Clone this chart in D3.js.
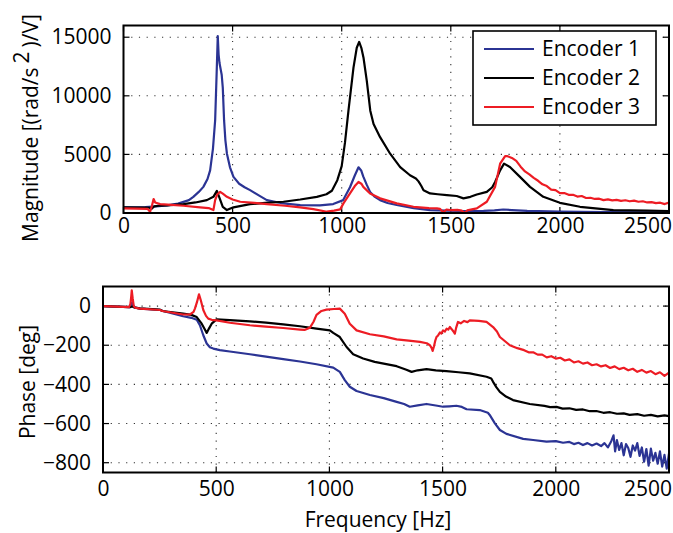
<!DOCTYPE html>
<html>
<head>
<meta charset="utf-8">
<script src="https://cdn.jsdelivr.net/npm/d3@7"></script>
<style>
  body { margin: 0; background: #fff; }
  svg text { font-family: "Open Sans", sans-serif; font-size: 21px; fill: #000; }
</style>
</head>
<body>
<div id="chart"></div>
<script>
// series names / colours
const seriesNames = ["Encoder 1", "Encoder 2", "Encoder 3"]
const seriesColors = ["#2b3494", "#000000", "#ed1c24"]

// axis ticks
const freqTicks = [0, 500, 1000, 1500, 2000, 2500]
const magTicks = [0, 5000, 10000, 15000]
const phaseTicks = [0, -200, -400, -600, -800]

// ---- magnitude, encoder 1 ----
const mag1Hz = [0, 100, 150, 200, 250, 300, 320, 345, 366, 385, 397, 410, 420, 427, 432, 436, 440, 445, 450, 455, 461, 467, 474, 488, 504, 530, 555, 580, 620, 657, 720, 810, 900, 961, 1007, 1038, 1060, 1077, 1090, 1099, 1115, 1130, 1150, 1176, 1210, 1252, 1330, 1405, 1480, 1557, 1650, 1700, 1740, 1780, 1850, 2000, 2200, 2500]
const mag1 = [480, 500, 560, 650, 800, 1100, 1380, 1800, 2230, 2900, 3640, 5500, 7900, 12000, 15100, 13500, 12800, 12300, 11800, 10700, 7900, 6200, 5060, 3900, 3080, 2500, 2200, 1950, 1500, 1100, 850, 680, 650, 760, 1100, 2200, 3200, 3900, 3600, 3100, 2400, 1800, 1400, 1100, 850, 680, 420, 250, 200, 170, 180, 220, 300, 250, 180, 110, 70, 50]

// ---- magnitude, encoder 2 ----
const mag2Hz = [0, 100, 120, 128, 140, 160, 200, 275, 330, 382, 412, 428, 440, 455, 474, 490, 504, 580, 650, 733, 810, 886, 930, 955, 980, 1000, 1015, 1031, 1054, 1069, 1080, 1090, 1100, 1115, 1131, 1146, 1176, 1222, 1268, 1313, 1340, 1352, 1365, 1375, 1405, 1440, 1482, 1527, 1558, 1590, 1619, 1665, 1690, 1703, 1726, 1744, 1771, 1817, 1863, 1924, 2000, 2092, 2245, 2400, 2500]
const mag2 = [480, 470, 450, 350, 560, 620, 650, 760, 900, 1100, 1380, 1890, 1300, 530, 250, 380, 480, 760, 860, 960, 1150, 1380, 1600, 1900, 2800, 4000, 6000, 8730, 12400, 14100, 14600, 14100, 13250, 11270, 8730, 7600, 6470, 5060, 3920, 3220, 2950, 2700, 2300, 1950, 1670, 1600, 1530, 1450, 1250, 1380, 1580, 1800, 2200, 2650, 3640, 4210, 3920, 3080, 2230, 1380, 870, 530, 250, 200, 170]

// ---- magnitude, encoder 3 ----
const mag3Hz = [0, 60, 110, 122, 130, 138, 145, 168, 220, 275, 351, 390, 412, 420, 430, 443, 455, 474, 500, 535, 600, 657, 740, 810, 870, 932, 965, 993, 1008, 1038, 1060, 1077, 1090, 1099, 1130, 1176, 1252, 1329, 1400, 1436, 1450, 1466, 1480, 1497, 1530, 1550, 1563, 1575, 1619, 1665, 1703, 1726, 1749, 1760, 1780, 1800, 1820, 1840, 1860, 1880, 1900, 1920, 1940, 1960, 1980, 2000, 2020, 2040, 2060, 2080, 2100, 2120, 2140, 2160, 2180, 2200, 2220, 2240, 2260, 2280, 2300, 2320, 2340, 2360, 2380, 2400, 2420, 2440, 2460, 2480, 2500]
const mag3 = [400, 380, 360, 110, 600, 1190, 900, 760, 700, 620, 480, 420, 250, 1100, 1600, 1800, 1650, 1380, 1150, 960, 860, 760, 620, 480, 330, 110, 200, 310, 820, 1670, 2300, 2650, 2500, 2230, 1670, 1250, 820, 530, 420, 400, 350, 60, 300, 250, 260, 200, 0, 220, 400, 960, 2230, 4210, 4860, 4850, 4700, 4450, 3950, 3550, 3300, 3000, 2750, 2450, 2300, 2000, 1950, 1700, 1700, 1550, 1550, 1400, 1450, 1280, 1300, 1200, 1220, 1100, 1160, 1080, 1120, 1040, 1090, 1000, 1060, 960, 1000, 900, 930, 840, 880, 760, 900]

// ---- phase, encoder 1 ----
const ph1Hz = [0, 60, 119, 125, 129, 135, 163, 252, 265, 354, 390, 414, 428, 443, 458, 472, 487, 516, 560, 649, 720, 796, 870, 943, 1017, 1046, 1068, 1090, 1120, 1179, 1240, 1297, 1330, 1355, 1390, 1429, 1470, 1502, 1530, 1561, 1585, 1606, 1664, 1700, 1708, 1731, 1753, 1782, 1856, 1900, 1959, 2000, 2032, 2060, 2080, 2100, 2120, 2140, 2160, 2180, 2200, 2215, 2230, 2245, 2255, 2262, 2270, 2280, 2290, 2300, 2310, 2320, 2330, 2340, 2350, 2360, 2370, 2380, 2390, 2400, 2410, 2420, 2430, 2440, 2450, 2460, 2470, 2480, 2490, 2500]
const ph1 = [0, -3, -5, 10, 20, -5, -13, -20, -25, -52, -60, -70, -98, -149, -191, -210, -217, -225, -232, -246, -258, -271, -283, -297, -314, -336, -378, -412, -434, -454, -470, -489, -500, -514, -507, -500, -508, -514, -512, -509, -515, -527, -531, -545, -556, -599, -633, -653, -678, -684, -692, -690, -698, -694, -705, -698, -710, -700, -712, -702, -715, -700, -722, -690, -660, -742, -685, -735, -700, -762, -705, -725, -770, -712, -738, -700, -765, -722, -795, -730, -815, -728, -790, -750, -805, -742, -820, -760, -830, -752]

// ---- phase, encoder 2 ----
const ph2Hz = [0, 60, 119, 130, 140, 163, 252, 262, 354, 390, 414, 436, 450, 458, 468, 480, 502, 560, 649, 720, 796, 870, 943, 1002, 1017, 1046, 1076, 1105, 1149, 1200, 1297, 1340, 1363, 1390, 1429, 1470, 1517, 1570, 1620, 1694, 1715, 1723, 1738, 1753, 1780, 1811, 1885, 1950, 1975, 2003, 2030, 2060, 2090, 2120, 2150, 2179, 2210, 2240, 2270, 2300, 2326, 2360, 2390, 2420, 2450, 2480, 2500]
const ph2 = [0, -3, -5, -2, -8, -12, -18, -25, -39, -45, -56, -90, -120, -137, -115, -90, -68, -72, -78, -85, -93, -103, -115, -124, -137, -158, -209, -246, -268, -285, -307, -325, -336, -328, -322, -328, -332, -338, -344, -361, -370, -387, -415, -438, -462, -480, -500, -510, -516, -515, -524, -522, -530, -528, -537, -536, -545, -542, -550, -548, -556, -552, -560, -556, -563, -558, -562]

// ---- phase, encoder 3 ----
const ph3Hz = [0, 60, 115, 121, 124, 127, 131, 136, 141, 163, 252, 262, 354, 384, 400, 406, 415, 424, 432, 443, 455, 465, 480, 502, 560, 649, 720, 796, 870, 890, 914, 930, 943, 965, 987, 1020, 1046, 1068, 1090, 1120, 1179, 1240, 1297, 1350, 1400, 1430, 1444, 1452, 1456, 1462, 1468, 1473, 1480, 1488, 1495, 1502, 1510, 1518, 1525, 1532, 1540, 1548, 1554, 1560, 1568, 1580, 1595, 1610, 1620, 1660, 1694, 1723, 1740, 1753, 1797, 1830, 1860, 1880, 1900, 1920, 1940, 1960, 1980, 2000, 2020, 2040, 2060, 2080, 2100, 2120, 2140, 2160, 2180, 2200, 2220, 2240, 2260, 2280, 2300, 2320, 2340, 2360, 2380, 2400, 2420, 2440, 2460, 2480, 2500]
const ph3 = [0, -3, -5, 10, 40, 80, 40, 0, -8, -13, -20, -25, -43, -43, -30, -13, 20, 60, 30, -20, -50, -64, -70, -73, -85, -98, -105, -112, -120, -122, -110, -80, -45, -25, -18, -15, -13, -39, -90, -124, -144, -155, -170, -176, -183, -190, -200, -215, -229, -205, -175, -158, -150, -135, -140, -124, -130, -115, -120, -107, -118, -130, -141, -110, -81, -88, -76, -82, -73, -76, -81, -107, -130, -158, -200, -215, -225, -236, -236, -248, -248, -262, -256, -268, -264, -278, -272, -288, -282, -294, -288, -302, -297, -308, -302, -316, -308, -322, -315, -328, -320, -336, -326, -340, -332, -348, -338, -356, -340]

const width = 673, height = 533

const svg = d3.select("#chart")
    .append("svg")
    .attr("width", width)
    .attr("height", height)

// draws one framed panel in the matlab style
function drawPanel(p) {
    const x = d3.scaleLinear().domain([0, 2500]).range([p.left, p.right])
    const y = d3.scaleLinear().domain(p.yDomain).range([p.bottom, p.top])
    const g = svg.append("g")

    // dotted grid
    g.append("g").selectAll("line")
        .data(freqTicks.slice(1, -1))
        .join("line")
        .attr("x1", d => x(d)).attr("x2", d => x(d))
        .attr("y1", p.top).attr("y2", p.bottom)
        .attr("stroke", "#333").attr("stroke-width", 1.1)
        .attr("stroke-dasharray", "1.2,6.5")
    g.append("g").selectAll("line")
        .data(p.yTicks.filter(d => d !== p.yDomain[0] && d !== p.yDomain[1]))
        .join("line")
        .attr("x1", p.left).attr("x2", p.right)
        .attr("y1", d => y(d)).attr("y2", d => y(d))
        .attr("stroke", "#333").attr("stroke-width", 1.1)
        .attr("stroke-dasharray", "1.2,6.5")

    // inward ticks on all four sides
    const tl = 6
    const tickG = g.append("g").attr("stroke", "#000").attr("stroke-width", 1.2)
    freqTicks.forEach(d => {
        tickG.append("line").attr("x1", x(d)).attr("x2", x(d)).attr("y1", p.bottom).attr("y2", p.bottom - tl)
        tickG.append("line").attr("x1", x(d)).attr("x2", x(d)).attr("y1", p.top).attr("y2", p.top + tl)
    })
    p.yTicks.forEach(d => {
        tickG.append("line").attr("x1", p.left).attr("x2", p.left + tl).attr("y1", y(d)).attr("y2", y(d))
        tickG.append("line").attr("x1", p.right).attr("x2", p.right - tl).attr("y1", y(d)).attr("y2", y(d))
    })

    // data lines
    const clipId = "clip" + p.id
    svg.append("clipPath").attr("id", clipId)
        .append("rect")
        .attr("x", p.left).attr("y", p.top)
        .attr("width", p.right - p.left).attr("height", p.bottom - p.top)
    const line = d3.line().x(d => x(d[0])).y(d => y(d[1]))
    p.series.forEach((s, i) => {
        g.append("path")
            .datum(d3.zip(s[0], s[1]))
            .attr("clip-path", `url(#${clipId})`)
            .attr("fill", "none")
            .attr("stroke", seriesColors[i])
            .attr("stroke-width", 2.2)
            .attr("stroke-linejoin", "round")
            .attr("d", line)
    })

    // frame
    g.append("rect")
        .attr("x", p.left).attr("y", p.top)
        .attr("width", p.right - p.left).attr("height", p.bottom - p.top)
        .attr("fill", "none").attr("stroke", "#000").attr("stroke-width", 2)

    // axes (labels only)
    const xAxis = g.append("g")
        .attr("transform", `translate(0,${p.bottom})`)
        .call(d3.axisBottom(x).tickValues(freqTicks).tickSize(0).tickPadding(p.xPad).tickFormat(d3.format("d")))
    const yAxis = g.append("g")
        .attr("transform", `translate(${p.left},0)`)
        .call(d3.axisLeft(y).tickValues(p.yTicks).tickSize(0).tickPadding(12).tickFormat(d3.format("d")))
    ;[xAxis, yAxis].forEach(a => {
        a.select(".domain").remove()
        a.selectAll("text").attr("font-family", null).attr("font-size", null)
    })
    // keep the last tick label inside the figure
    xAxis.selectAll("text").each(function () {
        const b = this.getBBox()
        const t = d3.select(this.parentNode).attr("transform").match(/translate\(([\d.]+)/)
        const cx = +t[1]
        if (cx + b.x + b.width > width - 1) {
            d3.select(this).attr("text-anchor", "end").attr("x", width - 1 - cx)
        }
    })
    return { x, y }
}

const magPanel = drawPanel({
    id: 1, left: 123.5, right: 669, top: 25.5, bottom: 213,
    yDomain: [0, 16000], yTicks: magTicks, xPad: 5,
    series: [[mag1Hz, mag1], [mag2Hz, mag2], [mag3Hz, mag3]]
})

const phasePanel = drawPanel({
    id: 2, left: 103, right: 669, top: 286.5, bottom: 472.5,
    yDomain: [-850, 100], yTicks: phaseTicks, xPad: 9,
    series: [[ph1Hz, ph1], [ph2Hz, ph2], [ph3Hz, ph3]]
})

// axis titles
const magLabel = svg.append("text")
    .attr("transform", "translate(38,128) rotate(-90)")
    .attr("text-anchor", "middle")
magLabel.append("tspan").text("Magnitude [(rad/s")
magLabel.append("tspan").attr("dx", 4).attr("dy", -9).text("2")
magLabel.append("tspan").attr("dx", 4).attr("dy", 9).text(")/V]")

svg.append("text")
    .attr("transform", "translate(35,382) rotate(-90)")
    .attr("text-anchor", "middle")
    .text("Phase [deg]")

svg.append("text")
    .attr("x", 378).attr("y", 527)
    .attr("text-anchor", "middle")
    .text("Frequency [Hz]")

// legend
const legend = svg.append("g").attr("transform", "translate(473,31)")
legend.append("rect")
    .attr("width", 183).attr("height", 94)
    .attr("fill", "#fff").attr("stroke", "#000").attr("stroke-width", 1.6)
seriesNames.forEach((name, i) => {
    const ly = 18 + i * 29
    legend.append("line")
        .attr("x1", 11).attr("x2", 61).attr("y1", ly).attr("y2", ly)
        .attr("stroke", seriesColors[i]).attr("stroke-width", 2.2)
    legend.append("text")
        .attr("x", 69).attr("y", ly).attr("dy", "0.35em")
        .text(name)
})
</script>
</body>
</html>
